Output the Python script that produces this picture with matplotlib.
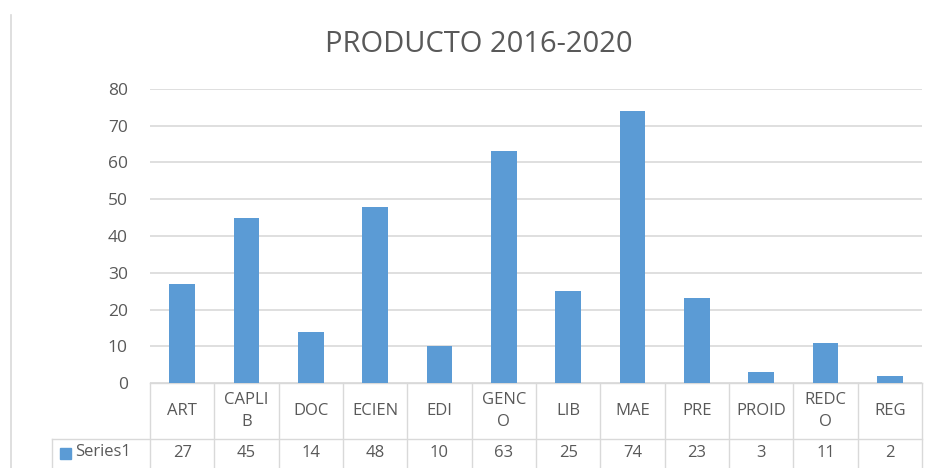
import matplotlib.pyplot as plt
import matplotlib.transforms as mtransforms
from matplotlib.patches import Rectangle

plt.rcParams['font.family'] = ['Open Sans', 'DejaVu Sans']

# data
categories = ['ART', 'CAPLIB', 'DOC', 'ECIEN', 'EDI', 'GENCO', 'LIB', 'MAE', 'PRE', 'PROID', 'REDCO', 'REG']
cat_labels = ['ART', 'CAPLI\nB', 'DOC', 'ECIEN', 'EDI', 'GENC\nO', 'LIB', 'MAE', 'PRE', 'PROID', 'REDC\nO', 'REG']
values = [27, 45, 14, 48, 10, 63, 25, 74, 23, 3, 11, 2]
series_name = 'Series1'
yticks = [0, 10, 20, 30, 40, 50, 60, 70, 80]

bar_color = '#5b9bd5'
grid_color = '#d9d9d9'
text_color = '#595959'

W, H = 931, 468
fig = plt.figure(figsize=(W / 100, H / 100), dpi=100)

# plot area in pixels: x 150..922, y 89 (80) .. 383 (0)
left, right, top, bottom = 150, 922, 89, 383
ax = fig.add_axes([left / W, 1 - bottom / H, (right - left) / W, (bottom - top) / H])

x = list(range(len(categories)))
ax.bar(x, values, width=0.4, color=bar_color, zorder=3)
ax.set_xlim(-0.5, len(categories) - 0.5)
ax.set_ylim(0, 80)
ax.set_yticks(yticks)
ax.set_yticklabels([str(t) for t in yticks], fontsize=12.5, color=text_color)
ax.tick_params(axis='y', length=0, pad=16)
ax.set_xticks([])
ax.grid(axis='y', color=grid_color, linewidth=1.2, zorder=0)
for s in ax.spines.values():
    s.set_visible(False)

# chart title
fig.text(479 / W, 1 - 44 / H, 'PRODUCTO 2016-2020', ha='center', va='center',
         fontsize=21, color=text_color)

# outer chart border (left edge visible)
fig.add_artist(plt.Line2D([11 / W, 11 / W], [1 - 15 / H, 0], color=grid_color, lw=1.2))

# data table below the axis
trans = mtransforms.blended_transform_factory(ax.transData, fig.transFigure)
row1_top = 1 - 383 / H
row1_bot = 1 - 439 / H
row2_bot = 1 - 475 / H
n = len(categories)
lw = 1.0
for k in range(n + 1):
    xb = k - 0.5
    ax.plot([xb, xb], [row1_top, row2_bot], transform=trans, color=grid_color,
            lw=lw, clip_on=False)
ax.plot([-0.5, n - 0.5], [row1_top, row1_top], transform=trans, color=grid_color,
        lw=lw, clip_on=False)
# row separator extends left under the series label cell
fig.add_artist(plt.Line2D([52 / W, right / W], [row1_bot, row1_bot], color=grid_color, lw=lw))
fig.add_artist(plt.Line2D([52 / W, 52 / W], [row1_bot, row2_bot], color=grid_color, lw=lw))

for i, lab in enumerate(cat_labels):
    ax.text(i, (row1_top + row1_bot) / 2, lab, transform=trans, ha='center', va='center',
            fontsize=12, color=text_color, linespacing=1.45)
    ax.text(i, 1 - 453 / H, str(values[i]), transform=trans, ha='center', va='center',
            fontsize=12, color=text_color)

# legend key in the series cell
fig.add_artist(Rectangle((60 / W, 1 - 459 / H), 11 / W, 11 / H, color=bar_color,
                         transform=fig.transFigure))
fig.text(75 / W, 1 - 452 / H, series_name, ha='left', va='center', fontsize=12,
         color=text_color)

fig.savefig('out.png', dpi=100)
